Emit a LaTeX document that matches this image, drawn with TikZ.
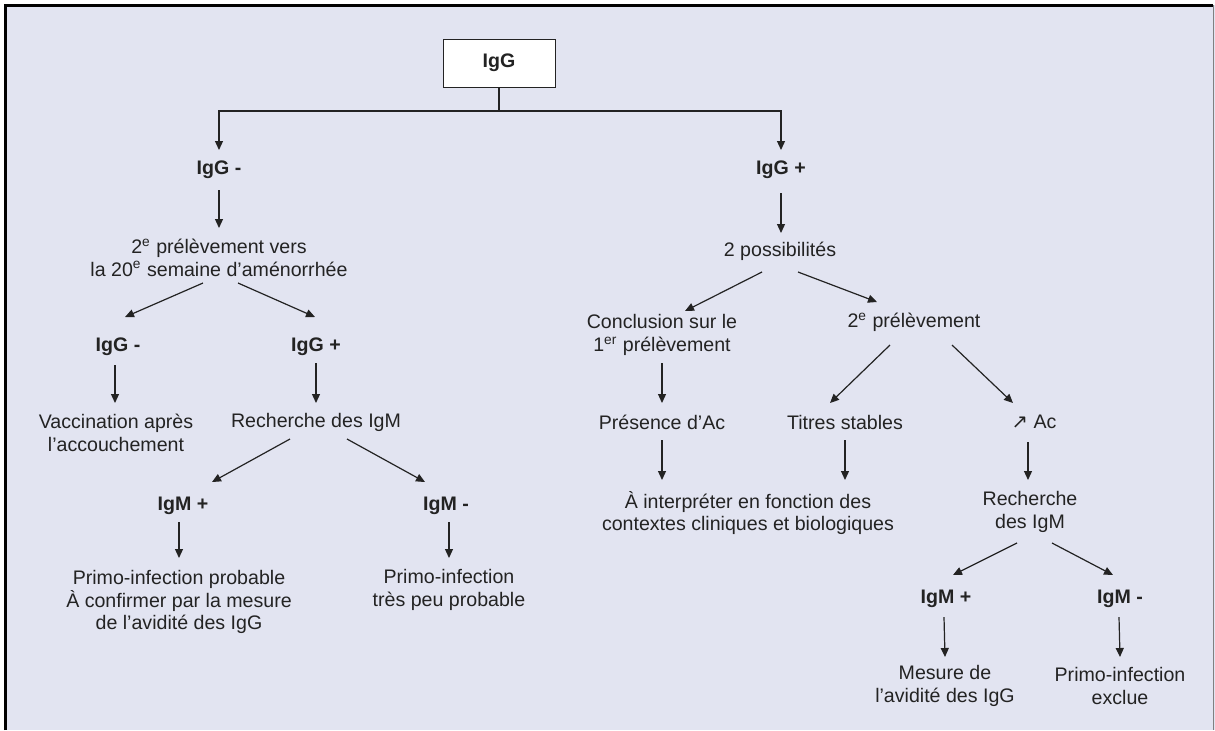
\documentclass[tikz,border=0pt]{standalone}
\usepackage{fontspec}
\setmainfont{Liberation Sans}
\newfontfamily\symfont{DejaVu Sans}
\usetikzlibrary{arrows.meta}
\begin{document}
\begin{tikzpicture}[x=0.5pt,y=-0.5pt,
    txt/.style={font=\fontsize{9.8pt}{11.4pt}\selectfont,text=inkgrey,align=center,inner sep=0pt},
    lbl/.style={txt,font=\fontsize{9.8pt}{11.4pt}\selectfont\bfseries},
    lnk/.style={draw=inkgrey,line width=0.6pt},
    arr/.style={lnk,-{Triangle[length=4.5pt,width=4pt]}}]
    \definecolor{bgbox}{RGB}{226,228,241}
    \definecolor{inkgrey}{RGB}{35,35,35}
    \useasboundingbox (0,0) rectangle (1215,730);
    \fill[bgbox] (5,5) rectangle (1215,730);
    \draw[line width=1.5pt] (5,730) -- (5,5) -- (1213,5);
    \draw[line width=0.5pt,color=gray] (1213,5) -- (1213,730);
    % top
    \node[lbl,draw=inkgrey,fill=white,line width=0.5pt,minimum width=56pt,minimum height=24pt] (igg) at (499,63) {IgG};
    \coordinate (fork) at (499,111);
    \node[lbl] (gneg) at (219,170) {IgG -};
    \node[lbl] (gpos) at (781,170) {IgG +};
    \draw[lnk] (igg.south) -- (fork);
    \draw[arr] (fork) -| ([shift={(0,-20)}]gneg.center);
    \draw[arr] (fork) -| ([shift={(0,-20)}]gpos.center);
    % left branch
    \node[txt] (prel2) at (219,257.5) {2\textsuperscript{e} prélèvement vers\\la 20\textsuperscript{e} semaine d'aménorrhée};
    \node[lbl] (gneg2) at (118,347) {IgG -};
    \node[lbl] (gpos2) at (316,347) {IgG +};
    \node[txt] (vacc) at (116,433) {Vaccination après\\l'accouchement};
    \node[txt] (rechA) at (316,422) {Recherche des IgM};
    \node[lbl] (mpos) at (183,506) {IgM +};
    \node[lbl] (mneg) at (446,506) {IgM -};
    \node[txt] (primo) at (179,602) {Primo-infection probable\\À confirmer par la mesure\\de l'avidité des IgG};
    \node[txt] (primoB) at (449,590) {Primo-infection\\très peu probable};
    \draw[arr] ([shift={(0,20)}]gneg.center) -- ([shift={(0,-29.5)}]prel2.center);
    \draw[arr] ([shift={(-16,25.5)}]prel2.center) -- ([shift={(7,-30)}]gneg2.center);
    \draw[arr] ([shift={(19,25.5)}]prel2.center) -- ([shift={(-1,-30)}]gpos2.center);
    \draw[arr] ([shift={(-3,18)}]gneg2.center) -- ([shift={(-1,-30)}]vacc.center);
    \draw[arr] ([shift={(0,16)}]gpos2.center) -- ([shift={(0,-19)}]rechA.center);
    \draw[arr] ([shift={(-26,17)}]rechA.center) -- ([shift={(29,-24)}]mpos.center);
    \draw[arr] ([shift={(31,17)}]rechA.center) -- ([shift={(-21,-24)}]mneg.center);
    \draw[arr] ([shift={(-4,16)}]mpos.center) -- ([shift={(0,-44)}]primo.center);
    \draw[arr] ([shift={(3,16)}]mneg.center) -- ([shift={(0,-32)}]primoB.center);
    % right branch
    \node[txt] (poss) at (780,251) {2 possibilités};
    \node[txt] (concl) at (662,335) {Conclusion sur le\\1\textsuperscript{er} prélèvement};
    \node[txt] (prelB) at (914,322) {2\textsuperscript{e} prélèvement};
    \node[txt] (pres) at (662,422) {Présence d'Ac};
    \node[txt] (titres) at (845,422) {Titres stables};
    \node[txt] (hausse) at (1034,422) {{\symfont ↗} Ac};
    \node[txt] (interp) at (748,513) {À interpréter en fonction des\\contextes cliniques et biologiques};
    \node[txt] (rechB) at (1030,512) {Recherche\\des IgM};
    \node[lbl] (mposB) at (946,599) {IgM +};
    \node[lbl] (mnegB) at (1120,599) {IgM -};
    \node[txt] (mesure) at (945,686) {Mesure de\\l'avidité des IgG};
    \node[txt] (exclue) at (1120,686) {Primo-infection\\exclue};
    \draw[arr] ([shift={(0,23)}]gpos.center) -- ([shift={(1,-18)}]poss.center);
    \draw[arr] ([shift={(-18,21)}]poss.center) -- ([shift={(23,-24)}]concl.center);
    \draw[arr] ([shift={(18,21)}]poss.center) -- ([shift={(-37,-20)}]prelB.center);
    \draw[arr] ([shift={(0,28)}]concl.center) -- ([shift={(0,-19)}]pres.center);
    \draw[arr] ([shift={(-24,23)}]prelB.center) -- ([shift={(-15,-19)}]titres.center);
    \draw[arr] ([shift={(38,23)}]prelB.center) -- ([shift={(-21,-19)}]hausse.center);
    \draw[arr] ([shift={(0,18)}]pres.center) -- ([shift={(-86,-33)}]interp.center);
    \draw[arr] ([shift={(0,18)}]titres.center) -- ([shift={(97,-33)}]interp.center);
    \draw[arr] ([shift={(-6,20)}]hausse.center) -- ([shift={(-2,-32)}]rechB.center);
    \draw[arr] ([shift={(-13,31)}]rechB.center) -- ([shift={(7,-24)}]mposB.center);
    \draw[arr] ([shift={(22,31)}]rechB.center) -- ([shift={(-7,-24)}]mnegB.center);
    \draw[arr] ([shift={(-2,18)}]mposB.center) -- ([shift={(0,-29)}]mesure.center);
    \draw[arr] ([shift={(-1,18)}]mnegB.center) -- ([shift={(0,-29)}]exclue.center);
\end{tikzpicture}
\end{document}
